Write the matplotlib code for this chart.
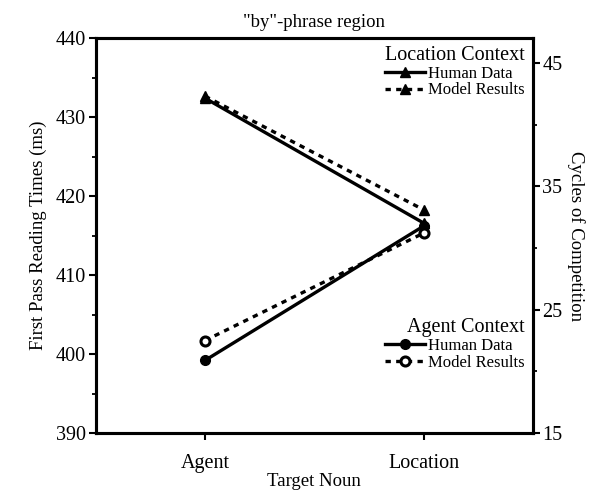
import numpy as np
import matplotlib.pyplot as plt

# data
nouns = ["Agent", "Location"]
loc_human = [432.4, 416.6]   # ms, left axis
loc_model = [42.3, 33.1]     # cycles, right axis
agent_human = [399.2, 416.2]  # ms, left axis
agent_model = [22.5, 31.2]    # cycles, right axis

plt.rcParams["font.family"] = ["Liberation Serif", "DejaVu Serif"]

fig = plt.figure(figsize=(6.02, 4.95), dpi=100)
ax = fig.add_axes([0.159, 0.125, 0.726, 0.798])
ax2 = ax.twinx()

x = np.arange(len(nouns))
lw = 2.4
dotted = (0, (1.6, 1.6))

# human data on the ms axis
h1, = ax.plot(x, loc_human, color="black", lw=lw, marker="^", ms=7,
              label="Human Data")
h2, = ax.plot(x, agent_human, color="black", lw=lw, marker="o", ms=7,
              label="Human Data")

# model results on the cycles axis
m1, = ax2.plot(x, loc_model, color="black", lw=lw, linestyle=dotted,
               marker="^", ms=7, label="Model Results")
m2, = ax2.plot(x, agent_model, color="black", lw=lw, linestyle=dotted,
               marker="o", ms=6.5, mfc="white", mew=2.2, label="Model Results")

ax.set_xlim(-0.5, 1.5)
ax.set_ylim(390, 440)
ax2.set_ylim(15, 47)

ax.set_xticks(x)
ax.set_xticklabels(nouns, fontsize=14)
ax.set_yticks(np.arange(390, 441, 10))
ax.set_yticks(np.arange(395, 440, 10), minor=True)
ax2.set_yticks([15, 25, 35, 45])
ax2.set_yticks([20, 30, 40], minor=True)

for a in (ax, ax2):
    a.tick_params(which="major", direction="out", length=5, width=1.5,
                  labelsize=14.5, pad=2)
    a.tick_params(which="minor", direction="out", length=3, width=1.3)
    for s in a.spines.values():
        s.set_linewidth(2.2)
ax.tick_params(axis="x", which="major", pad=10)

ax.set_xlabel("Target Noun", fontsize=13.5, labelpad=0)
ax.set_ylabel("First Pass Reading Times (ms)", fontsize=13.5, labelpad=6)
ax2.set_ylabel("Cycles of Competition", fontsize=13.5, rotation=270,
               labelpad=16)
ax.set_title('"by"-phrase region', fontsize=13.5, pad=8)

# two separate legends, one per context
leg1 = ax2.legend([h1, m1], ["Human Data", "Model Results"],
                  title="Location Context", loc="upper right",
                  bbox_to_anchor=(0.985, 0.985), frameon=False,
                  fontsize=12, title_fontsize=14.5, alignment="right",
                  handlelength=2.4, handletextpad=0.2, labelspacing=0.05,
                  borderpad=0.1, borderaxespad=0)
ax2.add_artist(leg1)
ax2.legend([h2, m2], ["Human Data", "Model Results"],
           title="Agent Context", loc="upper right",
           bbox_to_anchor=(0.985, 0.295), frameon=False,
           fontsize=12, title_fontsize=14.5, alignment="right",
           handlelength=2.4, handletextpad=0.2, labelspacing=0.05,
           borderpad=0.1, borderaxespad=0)

plt.savefig("out.png", dpi=100)
